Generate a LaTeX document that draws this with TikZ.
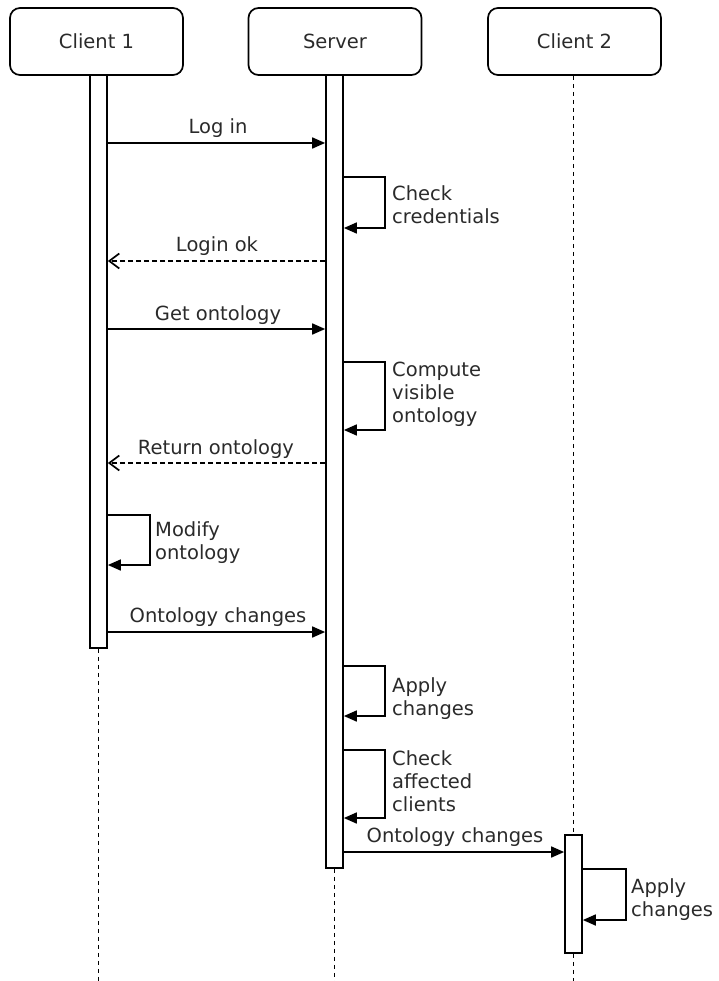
\documentclass[tikz,border=0pt]{standalone}
\usepackage{fontspec}
\setmainfont{DejaVu Sans}
\usetikzlibrary{arrows.meta}
\definecolor{txt}{HTML}{2A2A2A}
\tikzset{
  every node/.style={font=\fontsize{19.5}{23}\selectfont, text=txt},
  actor/.style={draw, line width=1.7pt, rounded corners=10pt, minimum width=173pt, minimum height=67pt, inner sep=0pt},
  bar/.style={draw, line width=1.7pt, fill=white, minimum width=17pt, inner sep=0pt},
  life/.style={line width=1.7pt, dash pattern=on 4pt off 4pt},
  msg/.style={line width=1.7pt, -{Triangle[length=13pt,width=11pt]}},
  ret/.style={line width=1.7pt, dash pattern=on 5pt off 3pt, -{Straight Barb[length=10pt,width=15pt,line width=1.7pt]}},
  mlabel/.style={anchor=base, inner sep=0pt},
  slabel/.style={anchor=north west, align=left, inner sep=0pt},
}
\begin{document}
\begin{tikzpicture}[x=1pt,y=-1pt]
\useasboundingbox (0,0) rectangle (718,981);
% actors
\node[actor] (c1) at (96.5,41.5) {Client 1};
\node[actor] (s) at (335,41.5) {Server};
\node[actor] (c2) at (574.5,41.5) {Client 2};
% lifeline ends
\coordinate (c1end) at (98.5,981);
\coordinate (send) at (334.5,981);
\coordinate (c2end) at (573.5,981);
% activation bars
\node[bar, minimum height=573pt] (c1bar) at (98.5,361.5) {};
\node[bar, minimum height=793pt] (sbar) at (334.5,471.5) {};
\node[bar, minimum height=118pt] (c2bar) at (573.5,894) {};
\draw[life] (c1bar.south) -- (c1end);
\draw[life] (sbar.south) -- (send);
\draw[life] (c2.south -| c2bar.north) -- (c2bar.north);
\draw[life] (c2bar.south) -- (c2end);
% message rows
\coordinate (m1) at (0,143);
\coordinate (m2) at (0,261);
\coordinate (m3) at (0,329);
\coordinate (m4) at (0,463);
\coordinate (m5) at (0,632);
\coordinate (m6) at (0,852);
% messages
\draw[msg] (c1bar.east |- m1) -- (sbar.west |- m1);
\node[mlabel] (l1) at (218,134) {Log in};
\draw[ret] (sbar.west |- m2) -- (c1bar.east |- m2);
\node[mlabel] (l2) at (217,252) {Login ok};
\draw[msg] (c1bar.east |- m3) -- (sbar.west |- m3);
\node[mlabel] (l3) at (218,320) {Get ontology};
\draw[ret] (sbar.west |- m4) -- (c1bar.east |- m4);
\node[mlabel] (l4) at (216,454) {Return ontology};
\draw[msg] (c1bar.east |- m5) -- (sbar.west |- m5);
\node[mlabel] (l5) at (218,622) {Ontology changes};
\draw[msg] (sbar.east |- m6) -- (c2bar.west |- m6);
\node[mlabel] (l6) at (455,842) {Ontology changes};
% self loops
\coordinate (a1) at (385,177); \coordinate (b1) at (385,228);
\draw[msg] (sbar.east |- a1) -- (a1) -- (b1) -- (sbar.east |- b1);
\node[slabel] (t1) at (392,185) {Check\\credentials};
\coordinate (a2) at (385,362); \coordinate (b2) at (385,430);
\draw[msg] (sbar.east |- a2) -- (a2) -- (b2) -- (sbar.east |- b2);
\node[slabel] (t2) at (392,362) {Compute\\visible\\ontology};
\coordinate (a3) at (150,515); \coordinate (b3) at (150,565);
\draw[msg] (c1bar.east |- a3) -- (a3) -- (b3) -- (c1bar.east |- b3);
\node[slabel] (t3) at (155,521) {Modify\\ontology};
\coordinate (a4) at (385,666); \coordinate (b4) at (385,716);
\draw[msg] (sbar.east |- a4) -- (a4) -- (b4) -- (sbar.east |- b4);
\node[slabel] (t4) at (392,677) {Apply\\changes};
\coordinate (a5) at (385,750); \coordinate (b5) at (385,818);
\draw[msg] (sbar.east |- a5) -- (a5) -- (b5) -- (sbar.east |- b5);
\node[slabel] (t5) at (392,750) {Check\\affected\\clients};
\coordinate (a6) at (626,869); \coordinate (b6) at (626,920);
\draw[msg] (c2bar.east |- a6) -- (a6) -- (b6) -- (c2bar.east |- b6);
\node[slabel] (t6) at (631,878) {Apply\\changes};
\end{tikzpicture}
\end{document}
